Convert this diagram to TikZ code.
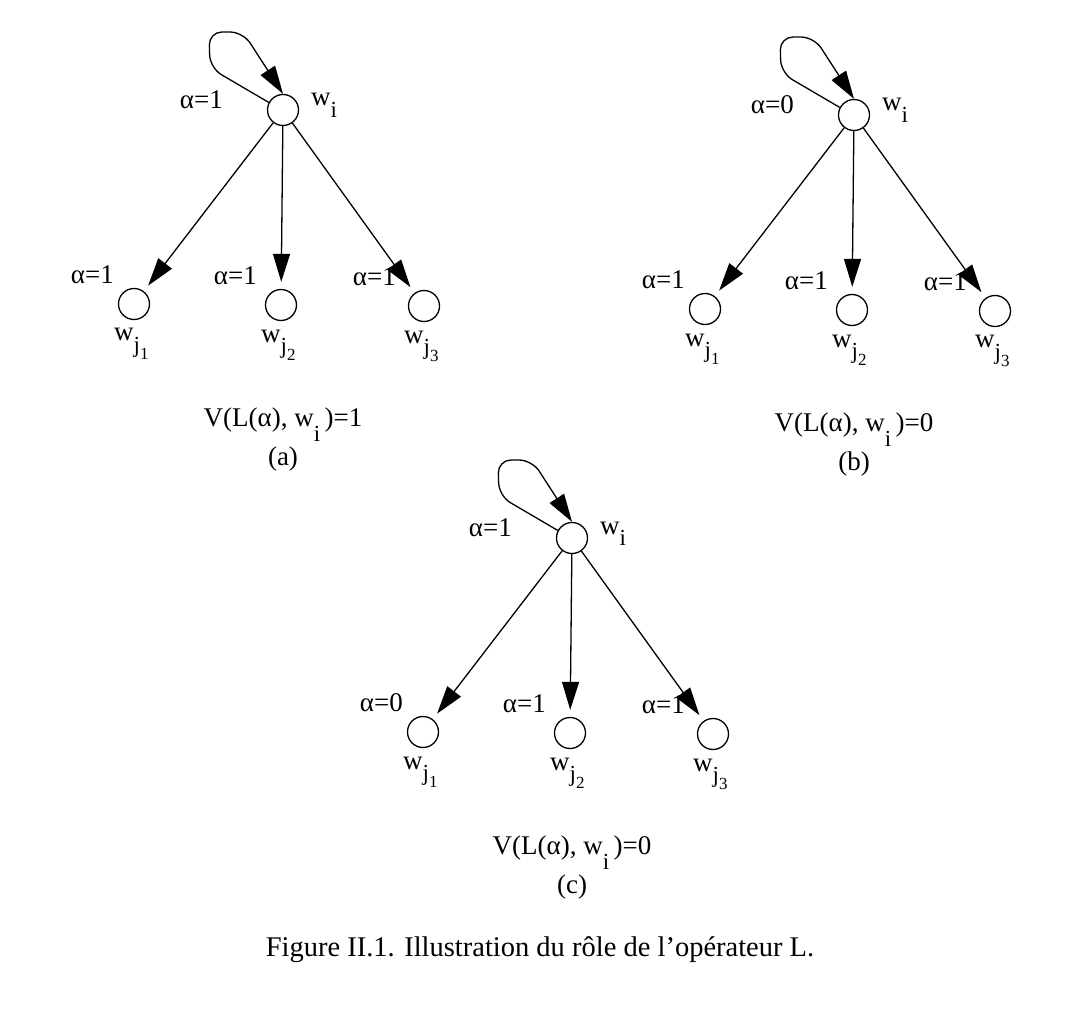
\documentclass[tikz,border=0pt]{standalone}
\usepackage{fontspec}
\setmainfont{Liberation Serif}
\usetikzlibrary{arrows.meta,calc}
\newcommand\figfont{\fontsize{27}{32}\selectfont}
% lowered subscripts, as in the scanned figure
\newcommand\wsub[1]{w\raisebox{-0.42em}{\fontsize{23}{23}\selectfont #1}}
\newcommand\wj[1]{\wsub{j\raisebox{-0.3em}{\fontsize{17}{17}\selectfont #1}}}
\newcommand\capw{w\raisebox{-0.55em}{\fontsize{23}{23}\selectfont i}\,}
\begin{document}
\begin{tikzpicture}[x=1pt,y=-1pt,>={Triangle[length=28pt,width=17pt]},
    every node/.style={font=\figfont},
    state/.style={circle,draw,line width=1.3pt,minimum size=31pt,inner sep=0pt},
    lbl/.style={inner sep=0pt},
    edge/.style={->,line width=1.3pt,shorten >=7pt},
    selfloop/.style={->,line width=1.3pt,rounded corners=13pt}]
  \useasboundingbox (0,0) rectangle (1085,1019);
  \foreach \t/\rx/\ry/\ar/\aa/\ab/\ac/\v in
      {a/283/110/1/1/1/1/1, b/854/115/0/1/1/1/0, c/572/538/1/0/1/1/0}{
    % --- tree (\t): w_i and its three successors ---
    \node[state] (r\t) at (\rx,\ry) {};
    \node[state] (\t1) at ($(r\t)+(-149,194)$) {};
    \node[state] (\t2) at ($(r\t)+(-2,195)$) {};
    \node[state] (\t3) at ($(r\t)+(141,196)$) {};
    \draw[selfloop] (r\t.152) -- ($(r\t)+(-73,-42)$) -- ($(r\t)+(-74,-78)$)
      -- ($(r\t)+(-40,-78)$) -- (r\t.north);
    \foreach \k in {1,2,3}
      \draw[edge] (r\t) -- (\t\k);
    % labels
    \node[lbl,anchor=east] (ar\t) at ($(r\t)+(-60,-10)$) {α=\ar};
    \node[lbl,anchor=base west] (wr\t) at ($(r\t)+(28,-4)$) {\wsub{i}};
    \node[lbl,anchor=east] (a\t1) at ($(\t1)+(-20,-29)$) {α=\aa};
    \node[lbl,anchor=east] (a\t2) at ($(\t2)+(-24,-29)$) {α=\ab};
    \node[lbl,anchor=east] (a\t3) at ($(\t3)+(-28,-29)$) {α=\ac};
    \foreach \k in {1,2,3}
      \node[lbl,anchor=base west] (w\t\k) at ($(\t\k)+(-20,37)$) {\wj{\k}};
    % value of L(alpha) at w_i
    \node (v\t) at (\rx,\ry+315) {V(L(α), \capw)=\v};
    \node (n\t) at (\rx,\ry+349) {(\t)};
  }
  \node[font=\fontsize{28.5}{34}\selectfont] (fig) at (540,950)
    {Figure II.1. Illustration du rôle de l’opérateur L.};
\end{tikzpicture}
\end{document}
